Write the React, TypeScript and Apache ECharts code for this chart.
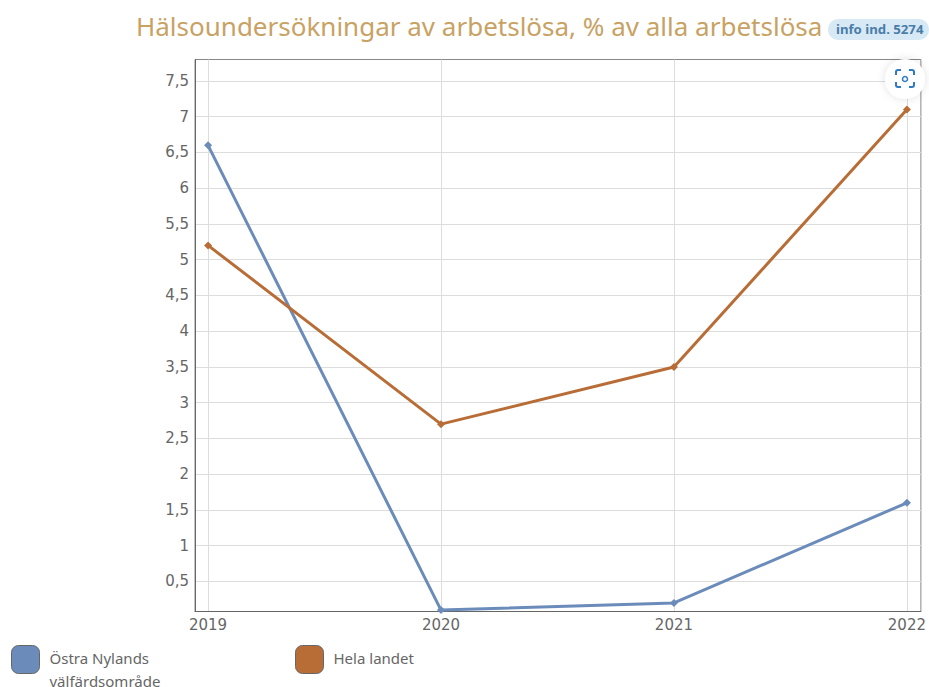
import React, { useEffect, useRef } from "react";
import * as echarts from "echarts";

const years = [2019, 2020, 2021, 2022];
const ostraNyland = [6.6, 0.1, 0.2, 1.6];
const helaLandet = [5.2, 2.7, 3.5, 7.1];
const yTicks = [0.5, 1, 1.5, 2, 2.5, 3, 3.5, 4, 4.5, 5, 5.5, 6, 6.5, 7, 7.5];
const seriesNames = ["Östra Nylands välfärdsområde", "Hela landet"];
const titleText = "Hälsoundersökningar av arbetslösa, % av alla arbetslösa";
const badgeText = "info ind. 5274";

const SANS = '"Noto Sans", sans-serif';
const BLUE = "#6b8cba";
const ORANGE = "#b96d36";

echarts.graphic.registerShape(
  "snapIcon",
  echarts.graphic.extendPath(
    "M1 6V3a2 2 0 0 1 2-2h3M14 1h3a2 2 0 0 1 2 2v3M19 13v3a2 2 0 0 1-2 2h-3M6 18H3a2 2 0 0 1-2-2v-3",
    {}
  ) as any
);

export default function App() {
  const ref = useRef<HTMLDivElement>(null);
  useEffect(() => {
    const chart = echarts.init(ref.current!, null, { renderer: "svg" });
    const pair = (vals: number[]) => years.map((y, i) => [y, vals[i]]);
    const line = (name: string, vals: number[], color: string) => ({
      name,
      type: "line",
      data: pair(vals),
      symbol: "diamond",
      symbolSize: 8,
      showSymbol: true,
      clip: false,
      lineStyle: { color, width: 3 },
      itemStyle: { color },
    });
    const legendRich = {
      a: { fontFamily: SANS, fontSize: 15, color: "#666666", lineHeight: 23 },
      top19: { fontSize: 1, lineHeight: 19 },
      bottom4: { fontSize: 1, lineHeight: 4 },
    };
    const legendBase = {
      itemWidth: 28,
      itemHeight: 28,
      itemGap: 0,
      padding: 0,
      icon: "roundRect",
      selectedMode: false,
      orient: "horizontal",
      itemStyle: { borderColor: "#666666", borderWidth: 1 },
      textStyle: { padding: [0, 0, 0, 5], rich: legendRich },
    };
    chart.setOption({
      animation: false,
      title: {
        text: titleText,
        left: 131,
        top: 8,
        textStyle: { fontFamily: SANS, fontSize: 26, fontWeight: 400, color: "#c8a263" },
      },
      grid: {
        left: 195,
        right: 8,
        top: 59.5,
        height: 552,
        show: true,
        borderColor: "#888888",
        borderWidth: 1,
        backgroundColor: "#ffffff",
      },
      legend: [
        {
          ...legendBase,
          left: 11,
          top: 636,
          data: [seriesNames[0]],
          formatter: () => "{top19| }\n{a|Östra Nylands}\n{a|välfärdsområde}",
        },
        {
          ...legendBase,
          left: 295,
          top: 645,
          data: [seriesNames[1]],
          formatter: (n: string) => `{a|${n}}\n{bottom4| }`,
        },
      ],
      xAxis: {
        type: "value",
        min: 2018.944,
        max: 2022.06,
        axisLine: { show: true, onZero: false, lineStyle: { color: "#666666" } },
        axisTick: { show: false, customValues: years },
        axisLabel: {
          customValues: years,
          formatter: (v: number) => String(v),
          fontFamily: "DejaVu Sans",
          fontSize: 15,
          color: "#666666",
          margin: 6,
        },
        splitLine: { show: true, lineStyle: { color: "#dddddd", width: 1 } },
      },
      yAxis: {
        type: "value",
        min: 0.08,
        max: 7.8,
        axisLine: { show: true, onZero: false, lineStyle: { color: "#666666" } },
        axisTick: { show: false, customValues: yTicks },
        axisLabel: {
          customValues: yTicks,
          formatter: (v: number) => String(v).replace(".", ","),
          fontFamily: "DejaVu Sans",
          fontSize: 15,
          color: "#666666",
          margin: 6,
        },
        splitLine: { show: true, lineStyle: { color: "#dddddd", width: 1 } },
      },
      graphic: [
        {
          type: "rect",
          shape: { x: 828, y: 19, width: 101, height: 21, r: 10 },
          style: { fill: "#d6e9f5" },
          z: 10,
        },
        {
          type: "text",
          x: 836,
          y: 22,
          style: {
            text: badgeText,
            fontFamily: SANS,
            fontSize: 13.2,
            fontWeight: 700,
            fill: "#4a7da8",
          },
          z: 11,
        },
        {
          type: "circle",
          shape: { cx: 905, cy: 79, r: 20 },
          style: { fill: "#ffffff", shadowBlur: 8, shadowColor: "rgba(0,0,0,0.12)" },
          z: 10,
        },
        {
          type: "snapIcon",
          x: 895,
          y: 69,
          style: { fill: "none", stroke: "#2f7ac4", lineWidth: 2 },
          z: 11,
        },
        {
          type: "circle",
          shape: { cx: 905, cy: 79, r: 2.5 },
          style: { fill: "none", stroke: "#2f7ac4", lineWidth: 1.5 },
          z: 11,
        },
      ],
      series: [line(seriesNames[0], ostraNyland, BLUE), line(seriesNames[1], helaLandet, ORANGE)],
    });
    return () => chart.dispose();
  }, []);
  return (
    <div
      ref={ref}
      style={{ position: "fixed", left: 0, top: 0, width: 929, height: 687, overflow: "hidden", background: "#fff" }}
    />
  );
}
